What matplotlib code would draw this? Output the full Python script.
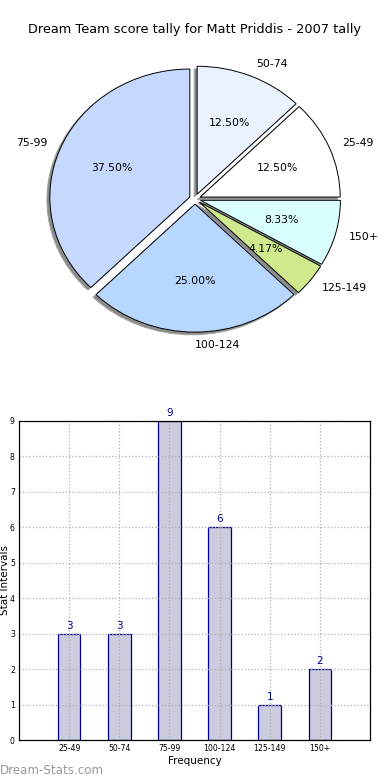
import matplotlib
matplotlib.use("Agg")
import matplotlib.pyplot as plt
import numpy as np

categories = ["25-49", "50-74", "75-99", "100-124", "125-149", "150+"]
counts = [3, 3, 9, 6, 1, 2]
pie_colors = ["#ffffff", "#eaf1ff", "#c5d9ff", "#b7d7ff", "#cfe98c", "#d9ffff"]
title = "Dream Team score tally for Matt Priddis - 2007 tally"

fig = plt.figure(figsize=(3.9, 7.8), dpi=100)

# Pie chart
ax1 = fig.add_axes([20/390, 1 - 359/780, 350/390, 320/780])
wedges, texts, autotexts = ax1.pie(
    counts, labels=categories, colors=pie_colors, explode=[0.04]*len(counts),
    autopct="%.2f%%", startangle=0,
    shadow={"ox": -0.015, "oy": -0.015, "facecolor": "#8c8c8c",
            "edgecolor": "#a0a0a0", "alpha": 1.0},
    wedgeprops=dict(edgecolor="black", linewidth=0.7),
    textprops=dict(fontsize=7.8))
ax1.set_aspect("auto")
ax1.set_xlim(-1.25, 1.25)
ax1.set_ylim(-1.25, 1.25)
fig.text(195/390, 1 - 30/780, title, ha="center", va="center", fontsize=9.3)

# Bar chart
ax2 = fig.add_axes([19/390, 40/780, 351/390, 319/780])
x = np.arange(1, len(categories) + 1)
bars = ax2.bar(x, counts, width=0.45, color="#ccccdf", edgecolor="#000090", linewidth=0.9)
for xi, c in zip(x, counts):
    ax2.text(xi, c + 0.08, str(c), ha="center", va="bottom", color="#000090", fontsize=7.5)
ax2.set_xlim(0, len(categories) + 1)
ax2.set_ylim(0, 9)
ax2.set_xticks(x)
ax2.set_xticklabels(categories, fontsize=5.6)
ax2.set_yticks(range(0, 10))
ax2.tick_params(axis="y", labelsize=5.6, length=0, pad=3)
ax2.tick_params(axis="x", length=0, pad=3)
ax2.grid(True, linestyle=":", color="#b0b0b0", linewidth=0.9)
ax2.set_axisbelow(False)
for s in ax2.spines.values():
    s.set_linewidth(0.9)
    s.set_zorder(10)
ax2.set_xlabel("Frequency", fontsize=7.5, labelpad=2)
fig.text(5/390, 1 - 580/780, "Stat Intervals", rotation=90, ha="center", va="center", fontsize=7.5)

fig.text(0, 1 - 770/780, "Dream-Stats.com", ha="left", va="center", fontsize=8.6,
         color="#999999")

fig.savefig("out.png", dpi=100)
